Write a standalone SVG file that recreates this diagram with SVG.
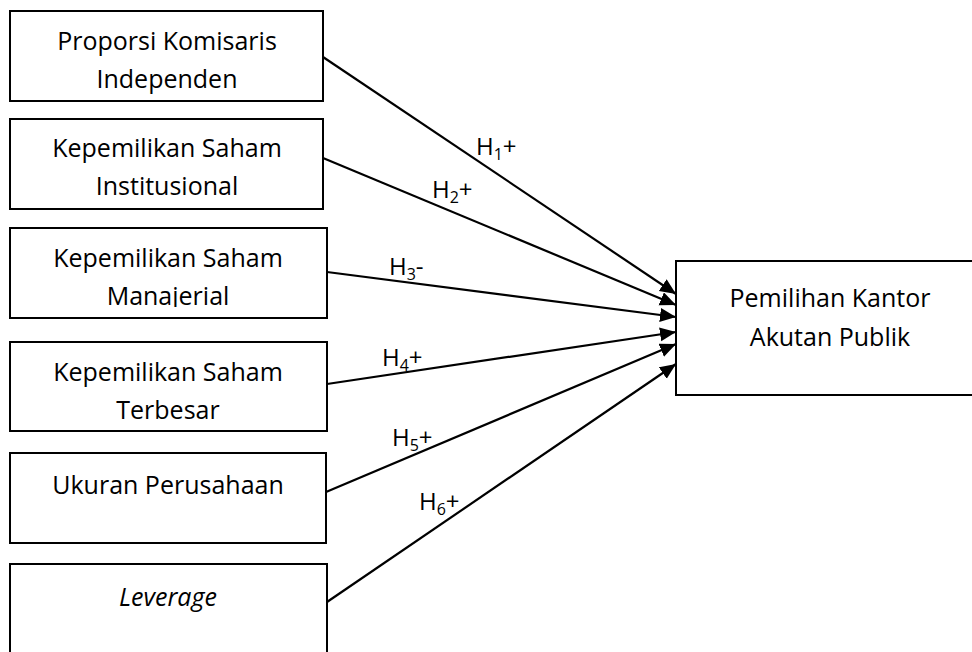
<svg xmlns="http://www.w3.org/2000/svg" width="972" height="652" viewBox="0 0 972 652">
<style>
  .box { fill: #ffffff; stroke: #000000; stroke-width: 2; }
  .lbl { font-family: "Open Sans", "Noto Sans", sans-serif; font-size: 25px; fill: #000000; text-anchor: middle; }
  .h { font-family: "Open Sans", "Noto Sans", sans-serif; font-size: 24px; fill: #000000; }
  .sub { font-size: 16px; }
  .conn { stroke: #000000; stroke-width: 2.2; fill: none; marker-end: url(#arr); }
</style>
<defs>
  <marker id="arr" markerUnits="userSpaceOnUse" markerWidth="17" markerHeight="15" refX="16" refY="7" orient="auto">
    <path d="M0,0 L16,7 L0,14 Z" fill="#000000"/>
  </marker>
  <clipPath id="clip3"><rect x="10" y="228" width="317" height="79"/></clipPath>
</defs>

<g id="connectors">
  <line class="conn" x1="323" y1="57" x2="676" y2="294"/>
  <line class="conn" x1="323" y1="158" x2="676" y2="305"/>
  <line class="conn" x1="327" y1="272" x2="676" y2="317"/>
  <line class="conn" x1="327" y1="384" x2="676" y2="332"/>
  <line class="conn" x1="326" y1="492" x2="676" y2="344"/>
  <line class="conn" x1="327" y1="602" x2="676" y2="364"/>
</g>

<g id="labels">
  <text class="h" x="476" y="155">H<tspan class="sub" dy="5">1</tspan><tspan dy="-5">+</tspan></text>
  <text class="h" x="432" y="198">H<tspan class="sub" dy="5">2</tspan><tspan dy="-5">+</tspan></text>
  <text class="h" x="389" y="275">H<tspan class="sub" dy="5">3</tspan><tspan dy="-5">-</tspan></text>
  <text class="h" x="382" y="366">H<tspan class="sub" dy="5">4</tspan><tspan dy="-5">+</tspan></text>
  <text class="h" x="392" y="446">H<tspan class="sub" dy="5">5</tspan><tspan dy="-5">+</tspan></text>
  <text class="h" x="419" y="510">H<tspan class="sub" dy="5">6</tspan><tspan dy="-5">+</tspan></text>
</g>

<g id="n1">
  <rect class="box" x="10" y="11" width="313" height="90"/>
  <text class="lbl" x="167" y="50">Proporsi Komisaris</text>
  <text class="lbl" x="167" y="88">Independen</text>
</g>
<g id="n2">
  <rect class="box" x="10" y="119" width="313" height="90"/>
  <text class="lbl" x="167" y="157">Kepemilikan Saham</text>
  <text class="lbl" x="167" y="195">Institusional</text>
</g>
<g id="n3">
  <rect class="box" x="10" y="228" width="317" height="90"/>
  <text class="lbl" x="168" y="267">Kepemilikan Saham</text>
  <text class="lbl" x="168" y="305" clip-path="url(#clip3)">Manajerial</text>
</g>
<g id="n4">
  <rect class="box" x="10" y="342" width="317" height="89"/>
  <text class="lbl" x="168" y="381">Kepemilikan Saham</text>
  <text class="lbl" x="168" y="419">Terbesar</text>
</g>
<g id="n5">
  <rect class="box" x="10" y="453" width="316" height="90"/>
  <text class="lbl" x="168" y="494">Ukuran Perusahaan</text>
</g>
<g id="n6">
  <rect class="box" x="10" y="564" width="317" height="100"/>
  <text class="lbl" x="168" y="606" font-style="italic">Leverage</text>
</g>
<g id="n7">
  <rect class="box" x="676" y="261" width="320" height="134"/>
  <text class="lbl" x="830" y="307">Pemilihan Kantor</text>
  <text class="lbl" x="830" y="346">Akutan Publik</text>
</g>
</svg>
